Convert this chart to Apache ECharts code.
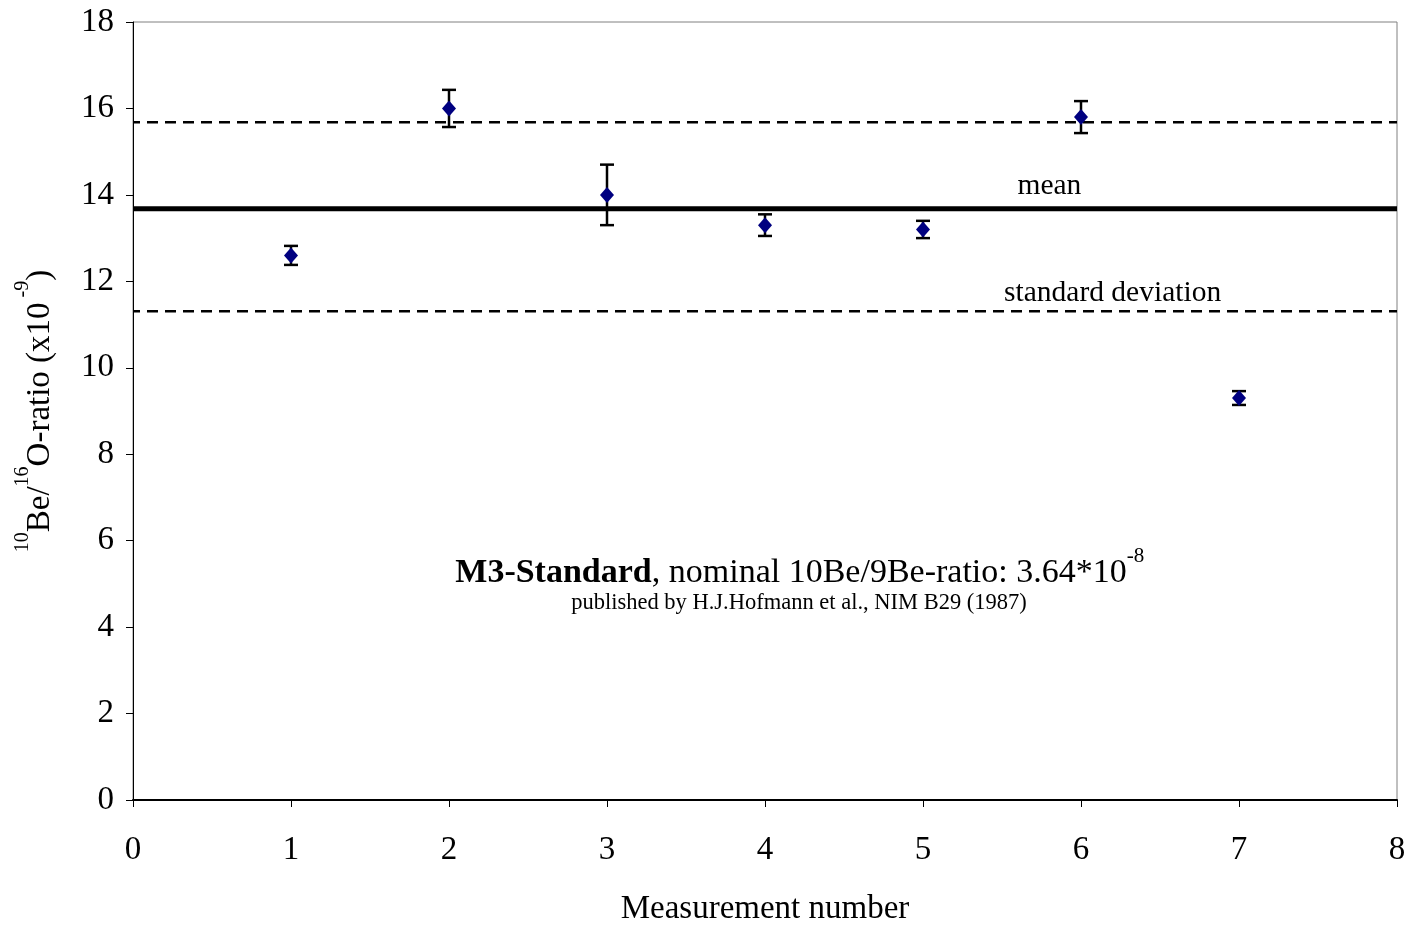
<!DOCTYPE html>
<html>
<head>
<meta charset="utf-8">
<script src="https://cdn.jsdelivr.net/npm/echarts@6/dist/echarts.min.js"></script>
<style>
html, body { margin: 0; padding: 0; background: #fff; }
#main { width: 1410px; height: 927px; }
</style>
</head>
<body>
<div id="main"></div>
<script>
// Messwerte: Nummer, Verhaeltnis, Fehler
var measureNo = [1, 2, 3, 4, 5, 6, 7];
var ratio = [12.6, 16.0, 14.0, 13.3, 13.2, 15.8, 9.3];
var ratioErr = [0.22, 0.43, 0.7, 0.25, 0.2, 0.37, 0.16];
var meanValue = 13.68;
var stdUpper = 15.68;
var stdLower = 11.31;
var xTicks = [0, 1, 2, 3, 4, 5, 6, 7, 8];
var yTicks = [0, 2, 4, 6, 8, 10, 12, 14, 16, 18];

var serif = '"Liberation Serif", "DejaVu Serif", serif';
var chart = echarts.init(document.getElementById('main'));

var points = measureNo.map(function (n, i) { return [n, ratio[i]]; });
var bars = measureNo.map(function (n, i) { return [n, ratio[i] - ratioErr[i], ratio[i] + ratioErr[i]]; });

var option = {
    backgroundColor: '#fff',
    animation: false,
    grid: {
        left: 133, right: 13, top: 22, bottom: 127,
        outerBoundsMode: 'none',
        show: true, borderColor: '#808080', borderWidth: 1
    },
    xAxis: {
        type: 'value',
        min: xTicks[0], max: xTicks[xTicks.length - 1], interval: 1,
        name: 'Measurement number',
        nameLocation: 'middle',
        nameGap: 93,
        nameTextStyle: { fontFamily: serif, fontSize: 33, color: '#000' },
        axisLine: { lineStyle: { color: '#000', width: 2 } },
        axisTick: { length: 7, lineStyle: { color: '#000' } },
        axisLabel: { fontFamily: serif, fontSize: 33, color: '#000', margin: 34 },
        splitLine: { show: false }
    },
    yAxis: {
        type: 'value',
        min: yTicks[0], max: yTicks[yTicks.length - 1], interval: 2,
        name: '{sup|10}{n|Be/}{sup|16}{n|O-ratio (x10}{sup| -9}{n|)}',
        nameLocation: 'middle',
        nameGap: 76,
        nameTextStyle: {
            fontFamily: serif, color: '#000',
            rich: {
                n: { fontFamily: serif, fontSize: 33, color: '#000', lineHeight: 44, verticalAlign: 'bottom' },
                sup: { fontFamily: serif, fontSize: 20, color: '#000', lineHeight: 44, verticalAlign: 'top' }
            }
        },
        axisLine: { show: true, lineStyle: { color: '#000', width: 1 } },
        axisTick: { show: true, length: 7, lineStyle: { color: '#000' } },
        axisLabel: { fontFamily: serif, fontSize: 33, color: '#000', margin: 19 },
        splitLine: { show: false }
    },
    series: [
        {
            name: 'mean',
            type: 'line',
            data: [[xTicks[0], meanValue], [xTicks[xTicks.length - 1], meanValue]],
            symbol: 'none',
            lineStyle: { color: '#000', width: 5 },
            z: 2
        },
        {
            name: 'std upper',
            type: 'line',
            data: [[xTicks[0], stdUpper], [xTicks[xTicks.length - 1], stdUpper]],
            symbol: 'none',
            lineStyle: { color: '#000', width: 2.5, type: [11, 7], dashOffset: 4 },
            z: 2
        },
        {
            name: 'std lower',
            type: 'line',
            data: [[xTicks[0], stdLower], [xTicks[xTicks.length - 1], stdLower]],
            symbol: 'none',
            lineStyle: { color: '#000', width: 2.5, type: [11, 7], dashOffset: 4 },
            z: 2
        },
        {
            // Fehlerbalken
            type: 'custom',
            data: bars,
            renderItem: function (params, api) {
                var x = api.value(0);
                var lo = api.coord([x, api.value(1)]);
                var hi = api.coord([x, api.value(2)]);
                var w = 7;
                var st = { stroke: '#000', lineWidth: 2.5 };
                return {
                    type: 'group',
                    children: [
                        { type: 'line', shape: { x1: lo[0], y1: lo[1], x2: hi[0], y2: hi[1] }, style: st },
                        { type: 'line', shape: { x1: lo[0] - w, y1: lo[1], x2: lo[0] + w, y2: lo[1] }, style: st },
                        { type: 'line', shape: { x1: hi[0] - w, y1: hi[1], x2: hi[0] + w, y2: hi[1] }, style: st }
                    ]
                };
            },
            z: 3
        },
        {
            name: 'ratio',
            type: 'scatter',
            data: points,
            symbol: 'diamond',
            symbolSize: [14, 16],
            itemStyle: { color: '#000080', opacity: 1 },
            z: 4
        },
        {
            // Beschriftungen
            type: 'scatter',
            symbolSize: 0,
            silent: true,
            itemStyle: { opacity: 1 },
            data: [
                { value: [5.8, 14.2], label: { formatter: 'mean' } },
                { value: [6.2, 11.73], label: { formatter: 'standard deviation' } },
                { value: [4.22, 5.37], label: { formatter: '{b|M3-Standard}{n|, nominal 10Be/9Be-ratio: 3.64*10}{sup|-8}' } },
                { value: [4.215, 4.56], label: { formatter: 'published by H.J.Hofmann et al., NIM B29 (1987)', fontSize: 22.5 } }
            ],
            label: {
                show: true,
                position: 'inside',
                fontFamily: serif,
                fontSize: 29.5,
                color: '#000',
                rich: {
                    b: { fontFamily: serif, fontSize: 34, fontWeight: 'bold', color: '#000', lineHeight: 44, verticalAlign: 'bottom' },
                    n: { fontFamily: serif, fontSize: 34, color: '#000', lineHeight: 44, verticalAlign: 'bottom' },
                    sup: { fontFamily: serif, fontSize: 21, color: '#000', lineHeight: 44, verticalAlign: 'top' }
                }
            },
            z: 5
        }
    ]
};

chart.setOption(option);
</script>
</body>
</html>
